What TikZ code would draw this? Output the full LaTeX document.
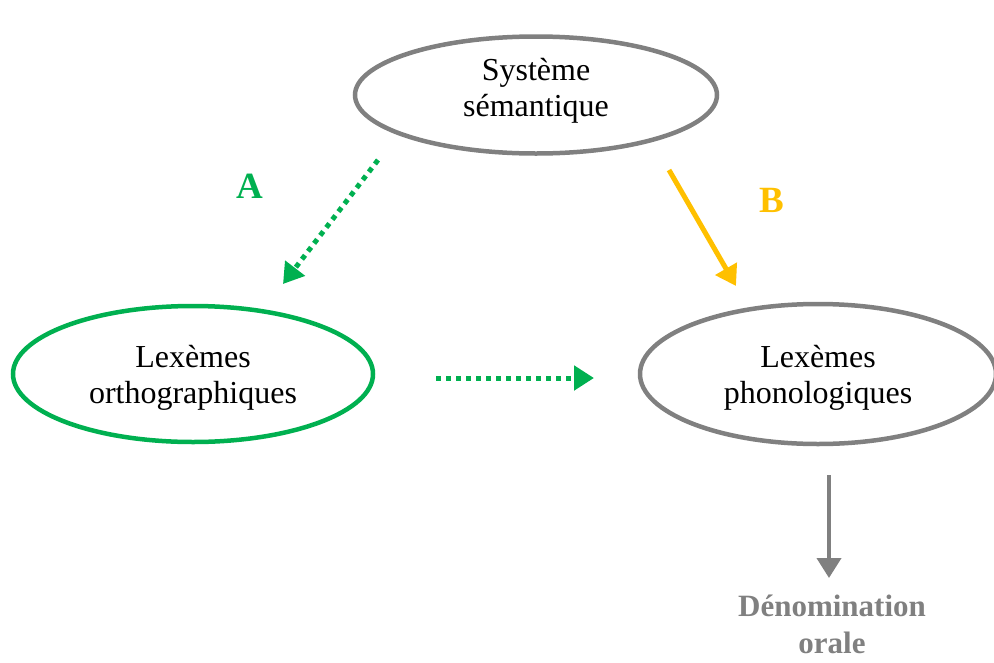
\documentclass[tikz,border=0pt]{standalone}
\usepackage{fontspec}
\setmainfont{Liberation Serif}
\usetikzlibrary{shapes.geometric,arrows.meta}
\definecolor{cgreen}{HTML}{00B050}
\definecolor{corange}{HTML}{FFC000}
\definecolor{cgray}{HTML}{808080}
\begin{document}
\begin{tikzpicture}[x=1pt,y=-1pt,
  oval/.style={ellipse,draw=cgray,line width=4.5pt,inner sep=0pt},
  txt/.style={align=center,font=\fontsize{32}{36}\selectfont},
  dotarrow/.style={draw=cgreen,line width=5pt,dash pattern=on 5pt off 5pt,
    -{Triangle[length=20pt,width=24pt]}},
  solidarrow/.style={line width=5pt,-{Triangle[length=20pt,width=24pt]}},
  lab/.style={font=\fontsize{37}{40}\selectfont\bfseries}]
\useasboundingbox (0,0) rectangle (994,662);
\node[oval,minimum width=362pt,minimum height=117pt] (sem) at (536,95) {};
\node[txt] (semt) at ([yshift=4pt]sem.center) {Système\\sémantique};
\node[oval,draw=cgreen,minimum width=360pt,minimum height=136pt] (orth) at (193,374) {};
\node[txt] (ortht) at ([yshift=-4pt]orth.center) {Lexèmes\\orthographiques};
\node[oval,minimum width=356pt,minimum height=140pt] (phon) at (818,374) {};
\node[txt] (phont) at ([yshift=-4pt]phon.center) {Lexèmes\\phonologiques};
\coordinate (a1) at (378,160);
\coordinate (a2) at (283,284);
\coordinate (h1) at (436,378);
\coordinate (h2) at (594,378);
\coordinate (b1) at (669,170);
\coordinate (b2) at (736,286);
\coordinate (d1) at (829,475);
\coordinate (d2) at (829,578);
\draw[dotarrow] (a1) -- (a2);
\draw[dotarrow] (h1) -- (h2);
\draw[solidarrow,draw=corange,fill=corange] (b1) -- (b2);
\draw[solidarrow,draw=cgray,fill=cgray,line width=4pt] (d1) -- (d2);
\node[lab,text=cgreen] (la) at (250,186) {A};
\node[lab,text=corange] (lb) at (772,200) {B};
\node[text=cgray,inner sep=0pt,font=\fontsize{31}{37}\selectfont\bfseries,align=center] (den) at (832,624) {Dénomination\\orale};
\end{tikzpicture}
\end{document}
